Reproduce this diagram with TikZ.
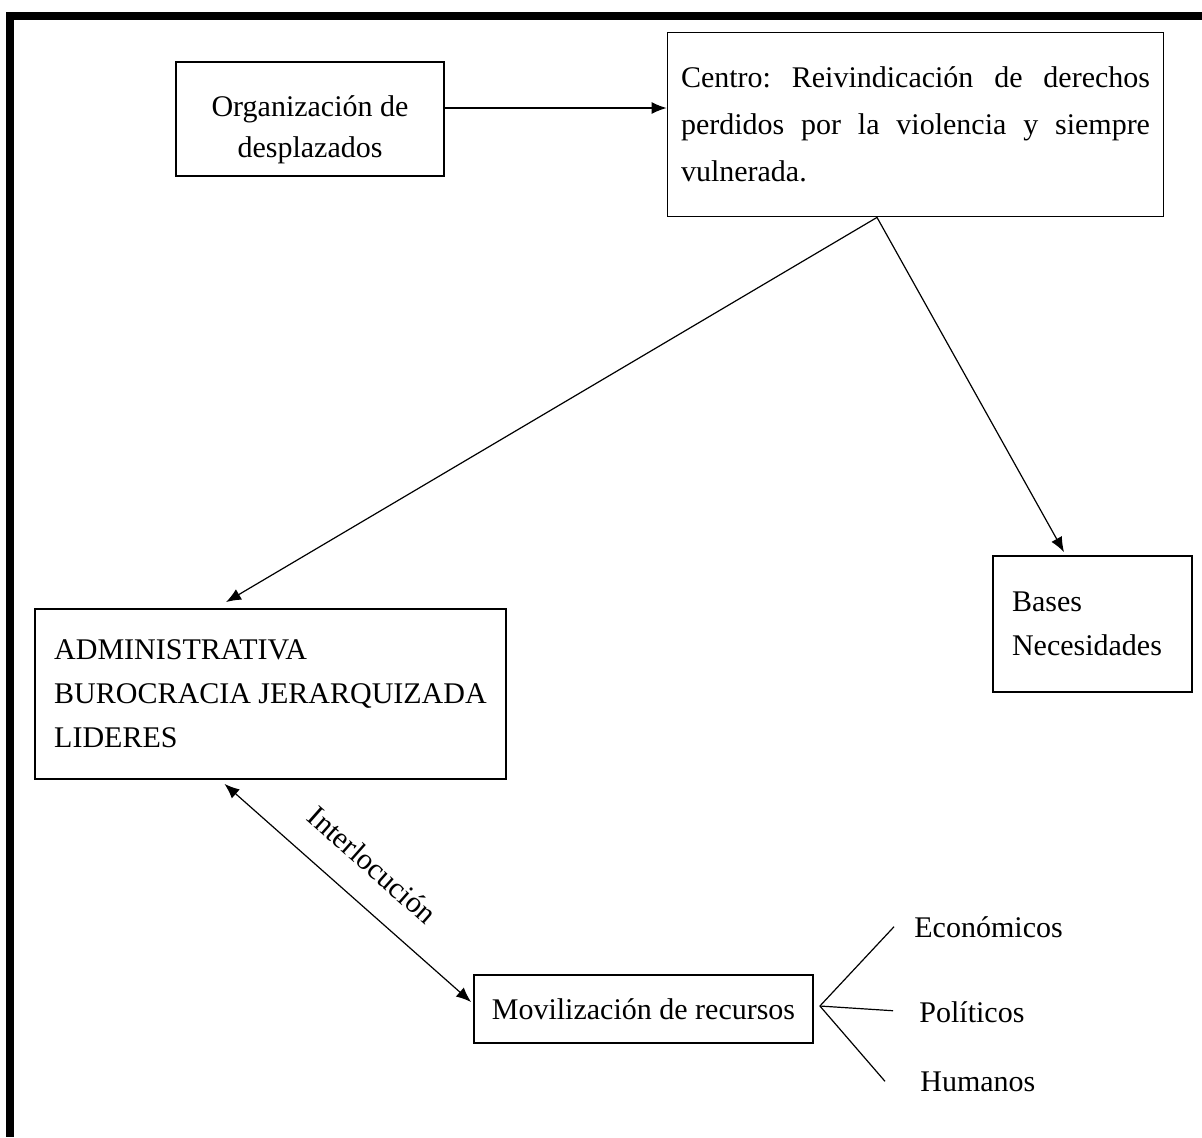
\documentclass[tikz,border=0pt]{standalone}
\usepackage{fontspec}
\setmainfont{Liberation Serif}
\usepackage{tikz}
\usetikzlibrary{arrows.meta}
\usetikzlibrary{positioning}
\frenchspacing
\tikzset{arr/.style = {-{Latex[length=7.5pt,width=6pt]}, line width=0.6pt}}
\tikzset{dblarr/.style = {{Latex[length=7.5pt,width=6pt]}-{Latex[length=7.5pt,width=6pt]}, line width=0.6pt}}
\tikzset{box/.style = {draw, line width=0.9pt, inner sep=0, font=\fontsize{15}{22}\selectfont}}
\tikzset{lbl/.style = {inner sep=0, font=\fontsize{15}{22}\selectfont}}

\begin{document}
\begin{tikzpicture}[x=0.5pt, y=-0.5pt]
      \useasboundingbox (0, 0) rectangle (1202, 1137);
      \fill (6, 12) rectangle (1202, 20);
      \fill (6, 12) rectangle (14, 1137);
      \node [box, minimum width=134pt, minimum height=57pt, align=center,
             font=\fontsize{15}{20.5}\selectfont] (org) at (310, 119) {\rule{0pt}{21pt}Organizaci\'on de\\desplazados};
      \node [box, minimum width=248pt, minimum height=92pt, text width=234.5pt, align=justify,
             font=\fontsize{15}{23.5}\selectfont] (centro) at (915.5, 124.5)
            {Centro: Reivindicaci\'on de derechos\linebreak perdidos por la violencia y siempre\linebreak vulnerada.};
      \node [box, minimum width=235.5pt, minimum height=85pt, align=left] (admin) at (270.5, 694)
            {ADMINISTRATIVA\\BUROCRACIA JERARQUIZADA\\LIDERES};
      \node [box, minimum width=99.5pt, minimum height=68pt, text width=80.5pt, align=left] (bases) at (1092.5, 624)
            {Bases\\Necesidades\\[4pt]};
      \node [box, minimum width=169.5pt, minimum height=34pt] (movil) at (643.5, 1009) {Movilizaci\'on de recursos};
      \node [lbl, anchor=base west] (eco) at (914, 937) {Econ\'omicos};
      \node [lbl, anchor=base west] (pol) at (919, 1022) {Pol\'iticos};
      \node [lbl, anchor=base west] (hum) at (920, 1091) {Humanos};
      \coordinate (fork) at ([xshift=3pt, yshift=1.5pt]movil.east);
      % arrows
      \draw [arr] ([yshift=5.5pt]org.east) -- ([yshift=5.5pt]org.east -| centro.west);
      \draw [arr] ([xshift=-19.25pt]centro.south) -- ([xshift=-22.25pt, yshift=3pt]admin.north);
      \draw [arr] ([xshift=-19.25pt]centro.south) -- ([xshift=-14.25pt, yshift=1.5pt]bases.north);
      \draw [dblarr] ([xshift=-23pt, yshift=-2pt]admin.south) -- node [lbl, midway, sloped, above=13pt] {Interlocuci\'on}
            ([xshift=-1pt, yshift=3.5pt]movil.west);
      % branches
      \draw [line width=0.6pt] (fork) -- ([xshift=-10pt]eco.west);
      \draw [line width=0.6pt] (fork) -- ([xshift=-13pt, yshift=0.5pt]pol.west);
      \draw [line width=0.6pt] (fork) -- ([xshift=-17.5pt]hum.west);
    \end{tikzpicture}
\end{document}
